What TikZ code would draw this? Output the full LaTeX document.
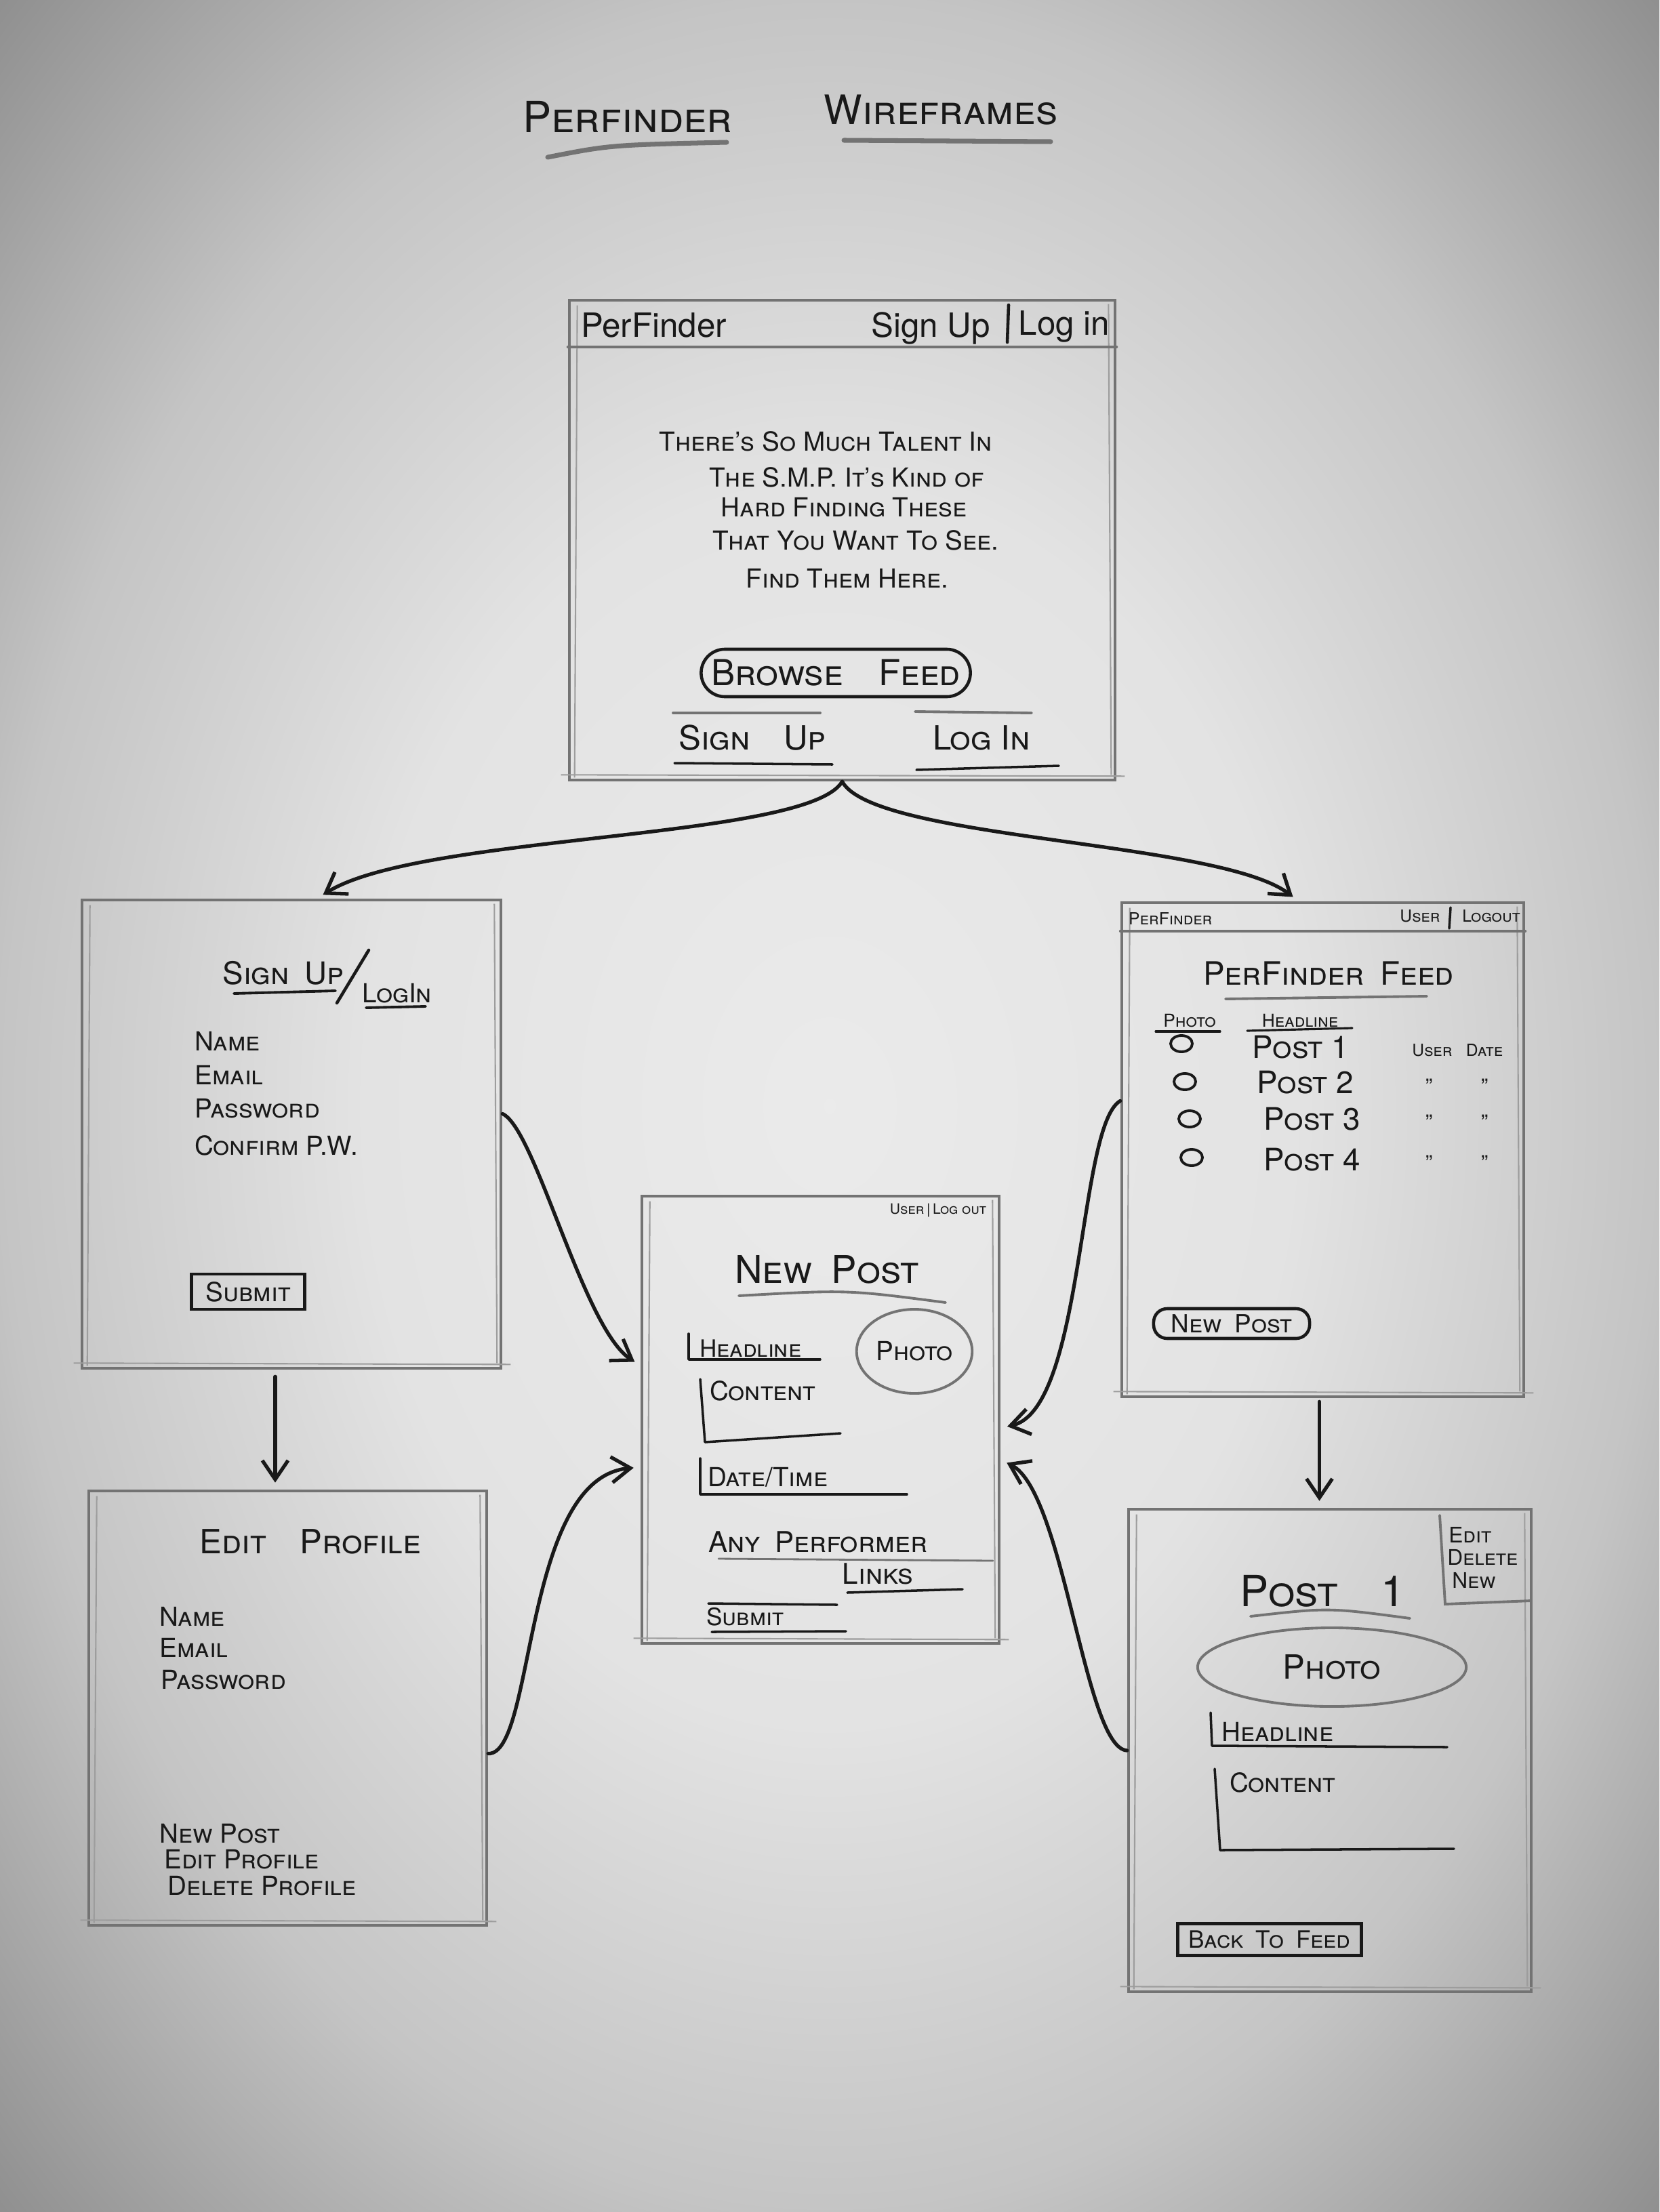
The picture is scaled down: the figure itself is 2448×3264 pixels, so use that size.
\documentclass[tikz,border=0pt]{standalone}
\usepackage{fontspec}
\setmainfont{TeX Gyre Heros}
\usetikzlibrary{arrows.meta,shapes.geometric,calc}
\definecolor{pencil}{gray}{0.45}
\definecolor{ink}{gray}{0.10}
\pgfdeclareradialshading{vign}{\pgfpoint{0bp}{0bp}}{color(0bp)=(black!8); color(14bp)=(black!11); color(25bp)=(black!23); color(36bp)=(black!45); color(50bp)=(black!45)}
\begin{document}
\begin{tikzpicture}[x=0.01cm,y=-0.01cm,
  pencil line/.style={draw=pencil, line width=1.1pt, line cap=round},
  screen/.style={draw=pencil, line width=1.2pt, inner sep=0pt, rectangle},
  ink line/.style={draw=ink, line width=1.3pt, line cap=round, line join=round},
  flow/.style={draw=ink, line width=1.5pt, line cap=round, -{Straight Barb[length=0.28cm,width=0.38cm,line width=1.5pt]}, shorten >=0.1cm},
  hw/.style={text=ink, inner sep=1pt, font=\fontsize{#1}{#1}\selectfont\scshape},
  hw/.default=10,
  plain/.style={text=ink, inner sep=1pt, font=\fontsize{#1}{#1}\selectfont},
  plain/.default=12,
  btn/.style={draw=ink, line width=1.3pt},
  sketch/.style={draw=pencil!70, line width=0.6pt},
]
\path[use as bounding box] (0,0) rectangle (2448,3264);
\shade[shading=vign] (0,0) rectangle (2448,3264);

% ---------- title ----------
\node[hw=18] (t1) at (926,172) {Perfinder};
\node[hw=17] (t2) at (1388,162) {Wireframes};
\draw[pencil line, line width=2pt] (808,232) .. controls (900,214) .. (1072,210);
\draw[pencil line, line width=2pt] (1245,207) -- (1550,209);

% ---------- screens ----------
\node[screen, minimum width=8.05cm, minimum height=7.08cm] (home) at (1242.5,797) {};
\node[screen, minimum width=6.18cm, minimum height=6.91cm] (signup) at (430,1673.5) {};
\node[screen, minimum width=5.87cm, minimum height=6.41cm] (editprof) at (424.5,2520.5) {};
\node[screen, minimum width=5.27cm, minimum height=6.60cm] (newpost) at (1210.5,2095) {};
\node[screen, minimum width=5.93cm, minimum height=7.29cm] (feed) at (1951.5,1696.5) {};
\node[screen, minimum width=5.94cm, minimum height=7.12cm] (post1) at (1962,2583) {};
\foreach \b in {home,signup,editprof,newpost,feed,post1}{
  \draw[sketch] ([shift={(0.14cm,-0.1cm)}]\b.north west) -- ([shift={(0.1cm,0.06cm)}]\b.south west);
  \draw[sketch] ([shift={(-0.12cm,-0.08cm)}]\b.north east) -- ([shift={(-0.08cm,0.1cm)}]\b.south east);
  \draw[sketch] ([shift={(-0.1cm,0.1cm)}]\b.south west) -- ([shift={(0.12cm,0.08cm)}]\b.south east);
}

% ---------- connectors ----------
\draw[flow] (home.south) .. controls (1190,1240) and (620,1230) .. ([xshift=0.38cm]signup.north);
\draw[flow] (home.south) .. controls (1290,1240) and (1800,1240) .. ([xshift=-0.36cm]feed.north);
\draw[flow] ([yshift=0.3cm]signup.east) .. controls (790,1665) and (860,1960) .. ([yshift=0.8cm]newpost.west);
\draw[flow] ([yshift=-0.67cm]editprof.east) .. controls (790,2590) and (770,2180) .. ([yshift=-0.7cm]newpost.west);
\draw[flow] ([yshift=0.72cm]feed.west) .. controls (1590,1660) and (1600,2080) .. ([yshift=-0.12cm]newpost.east);
\draw[flow] (post1.west) .. controls (1600,2580) and (1570,2200) .. ([yshift=-0.59cm]newpost.east);
\draw[flow] ([xshift=-0.24cm,yshift=-0.1cm]signup.south) -- ([xshift=-0.24cm]signup.south |- editprof.north);
\draw[flow] ([xshift=-0.05cm,yshift=-0.05cm]feed.south) -- ([xshift=-0.05cm]feed.south |- post1.north);

% ---------- home ----------
\draw[pencil line] (home.north west |- 0,512) -- (home.north east |- 0,512);
\node[plain=14, anchor=west] (hbrand) at (853,480) {PerFinder};
\node[plain=14] (hsign) at (1373,484) {Sign Up};
\draw[ink line] (1488,450) -- (1486,505);
\node[plain=14] (hlog) at (1570,482) {Log in};
\node[hw=11] (l1) at (1218,651) {There's So Much Talent In};
\node[hw=11] (l2) at (1249,704) {The S.M.P. It's Kind of};
\node[hw=11] (l3) at (1245,749) {Hard Finding These};
\node[hw=11] (l4) at (1262,797) {That You Want To See.};
\node[hw=11] (l5) at (1250,853) {Find Them Here.};
\node[btn, rounded corners=0.35cm, minimum width=3.97cm, minimum height=0.7cm, hw=15] (browse) at (1233,993) {Browse\quad Feed};
\node[hw=14] (lsign) at (1110,1089) {Sign\quad Up};
\node[hw=14] (llog) at (1448,1089) {Log In};
\draw[pencil line] (993,1052) -- (1210,1052);
\draw[ink line, line width=1pt] (995,1126) -- (1228,1128);
\draw[pencil line] (1350,1050) -- (1522,1052);
\draw[ink line, line width=1pt] (1352,1136) -- (1562,1130);

% ---------- sign up ----------
\node[hw=13] (sutitle) at (418,1436) {Sign\enspace Up};
\draw[ink line, line width=1.1pt] (345,1466) -- (495,1462);
\draw[ink line] (497,1480) -- (544,1402);
\node[hw=11] (sulog) at (586,1466) {LogIn};
\draw[ink line, line width=1.1pt] (540,1487) -- (628,1485);
\node[hw=11, anchor=west] (suname) at (283,1536) {Name};
\node[hw=11, anchor=west] (suemail) at (283,1586) {Email};
\node[hw=11, anchor=west] (supw) at (283,1636) {Password};
\node[hw=11, anchor=west] (sucpw) at (283,1690) {Confirm P.W.};
\node[btn, line width=1.2pt, hw=11, minimum width=1.67cm, minimum height=0.52cm] (susubmit) at (366,1906) {Submit};

% ---------- edit profile ----------
\node[hw=14] (eptitle) at (458,2275) {Edit\quad Profile};
\node[hw=11, anchor=west] (epname) at (231,2385) {Name};
\node[hw=11, anchor=west] (epemail) at (231,2431) {Email};
\node[hw=11, anchor=west] (eppw) at (233,2479) {Password};
\node[hw=11, anchor=west] (epnew) at (231,2706) {New Post};
\node[hw=11, anchor=west] (epedit) at (238,2744) {Edit Profile};
\node[hw=11, anchor=west] (epdel) at (243,2783) {Delete Profile};

% ---------- new post ----------
\node[hw=6] (npuser) at (1384,1786) {User\,|\,Log out};
\node[hw=16] (nptitle) at (1220,1873) {New\enspace Post};
\draw[pencil line] (1090,1912) .. controls (1250,1903) .. (1395,1922);
\node[hw=10, anchor=west] (nphead) at (1028,1990) {Headline};
\draw[ink line, line width=1pt] (1016,1968) -- (1016,2006) -- (1210,2006);
\node[draw=pencil, line width=1.1pt, ellipse, minimum width=1.46cm, minimum height=1.24cm, hw=11] (npphoto) at (1349,1994) {Photo};
\node[hw=11, anchor=west] (npcontent) at (1043,2052) {Content};
\draw[ink line, line width=1pt] (1033,2035) -- (1040,2128) -- (1240,2115);
\node[hw=11, anchor=west] (npdate) at (1040,2180) {Date/Time};
\draw[ink line, line width=1pt] (1033,2152) -- (1033,2205) -- (1338,2205);
\node[hw=12, anchor=west] (npany) at (1041,2275) {Any\enspace Performer};
\node[hw=12] (nplinks) at (1295,2322) {Links};
\draw[pencil line, line width=0.8pt] (1060,2300) -- (1465,2303);
\draw[ink line, line width=1pt] (1250,2350) -- (1420,2345);
\node[hw=10, anchor=west] (npsubmit) at (1038,2386) {Submit};
\draw[ink line, line width=1pt] (1045,2366) -- (1235,2368);
\draw[ink line, line width=1pt] (1050,2408) -- (1248,2407);

% ---------- feed ----------
\draw[pencil line] (feed.north west |- 0,1374) -- (feed.north east |- 0,1374);
\node[hw=7, anchor=west] (fbrand) at (1661,1356) {PerFinder};
\node[hw=7] (fuser) at (2095,1352) {User};
\draw[ink line, line width=1pt] (2140,1339) -- (2138,1370);
\node[hw=7] (flogout) at (2200,1352) {Logout};
\node[hw=13.5] (ftitle) at (1960,1436) {PerFinder\enspace Feed};
\draw[pencil line] (1808,1474) -- (2105,1470);
\node[hw=7.5] (fphoto) at (1755,1506) {Photo};
\draw[ink line, line width=0.9pt] (1705,1522) -- (1800,1522);
\node[hw=7.5] (fheadline) at (1918,1506) {Headline};
\draw[ink line, line width=0.9pt] (1840,1521) -- (1995,1517);
\foreach \cx/\cy/\px/\py/\n in {1743/1540/1843/1545/1, 1748/1596/1850/1597/2, 1755/1651/1860/1651/3, 1758/1708/1860/1711/4}{
  \node[draw=ink, line width=1.1pt, ellipse, minimum width=0.32cm, minimum height=0.24cm, inner sep=0pt] (fc\n) at (\cx,\cy) {};
  \node[hw=13, anchor=west] (fp\n) at (\px,\py) {Post \n};
}
\node[hw=7] (fucol) at (2113,1550) {User};
\node[hw=7] (fdcol) at (2190,1550) {Date};
\foreach \y/\n in {1603/2, 1656/3, 1716/4}{
  \node[hw=9] (fdu\n) at (2108,\y) {''};
  \node[hw=9] (fdd\n) at (2190,\y) {''};
}
\node[btn, rounded corners=0.2cm, minimum width=2.3cm, minimum height=0.44cm, hw=10.5] (fnew) at (1817,1953) {New\enspace Post};

% ---------- post 1 ----------
\draw[pencil line] (2124,2236) -- (2132,2367) -- (2259,2362);
\node[hw=9, anchor=west] (pedit) at (2133,2265) {Edit};
\node[hw=9, anchor=west] (pdel) at (2131,2298) {Delete};
\node[hw=9, anchor=west] (pnew) at (2138,2332) {New};
\node[hw=18] (ptitle) at (1951,2348) {Post\quad 1};
\draw[pencil line] (1845,2385) .. controls (1960,2372) .. (2080,2388);
\node[draw=pencil, line width=1.1pt, ellipse, minimum width=3.96cm, minimum height=1.16cm, hw=14] (pphoto) at (1965,2460) {Photo};
\node[hw=11, anchor=west] (phead) at (1798,2555) {Headline};
\draw[ink line, line width=1pt] (1786,2527) -- (1788,2576) -- (2135,2578);
\node[hw=11, anchor=west] (pcontent) at (1810,2630) {Content};
\draw[ink line, line width=1pt] (1792,2610) -- (1800,2730) -- (2145,2728);
\node[btn, line width=1.4pt, minimum width=2.71cm, minimum height=0.47cm, hw=10] (pback) at (1873,2862) {Back\enspace To\enspace Feed};
\end{tikzpicture}
\end{document}
